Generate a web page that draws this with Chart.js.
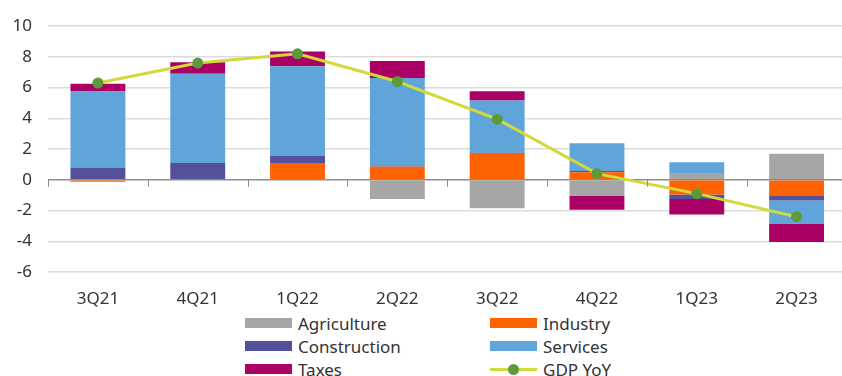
<!DOCTYPE html>
<html>
<head>
<meta charset="utf-8">
<script src="https://cdn.jsdelivr.net/npm/chart.js@4.4.1/dist/chart.umd.min.js"></script>
<style>
  html, body { margin: 0; padding: 0; background: #fff; overflow: hidden; }
  #wrap { position: relative; width: 842px; height: 376px; overflow: hidden; }
  #chart { position: absolute; left: 0; top: 0; }
  #legend { position: absolute; left: 0; top: 312px; width: 842px; font-family: "Noto Sans", sans-serif; font-size: 17px; color: #333; }
  .item { position: absolute; height: 23px; line-height: 23px; white-space: nowrap; }
  .sw { position: absolute; left: 0; top: 6px; width: 47px; height: 10px; }
  .txt { position: absolute; left: 53px; top: 0; }
  .ln { position: absolute; left: 0; top: 10px; width: 47px; height: 3px; }
  .dot { position: absolute; left: 18px; top: 6px; width: 11px; height: 11px; border-radius: 50%; }
</style>
</head>
<body>
<div id="wrap">
  <canvas id="chart" width="852" height="310"></canvas>
  <div id="legend"></div>
</div>
<script>
// quarters on the x axis
const categories = ['3Q21', '4Q21', '1Q22', '2Q22', '3Q22', '4Q22', '1Q23', '2Q23'];

// contributions to GDP growth (pp)
const agriculture  = [0, -0.05, -0.05, -1.25, -1.85, -1.05, 0.45, 1.7];
const industry     = [-0.12, 0, 1.1, 0.85, 1.7, 0.5, -0.95, -1.05];
const construction = [0.8, 1.1, 0.45, 0.03, 0.07, 0.08, -0.3, -0.3];
const services     = [4.95, 5.8, 5.85, 5.75, 3.4, 1.8, 0.7, -1.5];
const taxes        = [0.5, 0.75, 0.95, 1.1, 0.6, -0.9, -1.0, -1.2];
const gdpYoY       = [6.3, 7.6, 8.2, 6.4, 3.95, 0.4, -0.9, -2.4];

const yTicks = [-6, -4, -2, 0, 2, 4, 6, 8, 10];

const colors = {
  agriculture: '#a6a6a6',
  industry: '#ff6200',
  construction: '#525199',
  services: '#5fa5d9',
  taxes: '#ab0066',
  line: '#d2da3a',
  dot: '#5e9a3a'
};

const FONT = { family: '"Noto Sans", sans-serif', size: 17 };

function barSet(label, data, color) {
  return {
    type: 'bar',
    label: label,
    data: data,
    backgroundColor: color,
    borderWidth: 0,
    stack: 'parts',
    order: 1,
    barPercentage: 0.55,
    categoryPercentage: 1
  };
}

// little tick marks hanging under the zero line, at category boundaries
const zeroTicks = {
  id: 'zeroTicks',
  afterDatasetsDraw(chart) {
    const x = chart.scales.x, y = chart.scales.y;
    const y0 = y.getPixelForValue(0);
    const step = x.width / categories.length;
    const ctx = chart.ctx;
    ctx.save();
    ctx.strokeStyle = '#8c8c8c';
    ctx.lineWidth = 1;
    ctx.beginPath();
    for (let i = 0; i <= categories.length; i++) {
      const px = Math.round(x.left + i * step) + 0.5;
      ctx.moveTo(px, y0);
      ctx.lineTo(px, y0 + 7);
    }
    ctx.stroke();
    ctx.restore();
  }
};

const ctx = document.getElementById('chart').getContext('2d');
const chart = new Chart(ctx, {
  data: {
    labels: categories,
    datasets: [
      {
        type: 'line',
        label: 'GDP YoY',
        data: gdpYoY,
        borderColor: colors.line,
        borderWidth: 3,
        pointRadius: 5.5,
        pointBackgroundColor: colors.dot,
        pointBorderWidth: 0,
        tension: 0,
        stack: 'gdp',
        order: 0
      },
      barSet('Agriculture', agriculture, colors.agriculture),
      barSet('Industry', industry, colors.industry),
      barSet('Construction', construction, colors.construction),
      barSet('Services', services, colors.services),
      barSet('Taxes', taxes, colors.taxes)
    ]
  },
  options: {
    responsive: false,
    animation: false,
    devicePixelRatio: 1,
    layout: { padding: { top: 19, right: 0, left: 0, bottom: 0 } },
    plugins: {
      legend: { display: false },
      tooltip: { enabled: false }
    },
    scales: {
      x: {
        stacked: true,
        offset: true,
        grid: { display: false, drawTicks: false },
        border: { display: false },
        ticks: { color: '#333', font: FONT, padding: 17, maxRotation: 0 },
        afterFit(scale) { scale.height = 38; }
      },
      y: {
        stacked: true,
        min: -6,
        max: 10,
        afterBuildTicks(scale) { scale.ticks = yTicks.map(v => ({ value: v })); },
        grid: {
          drawTicks: false,
          lineWidth: 1.5,
          color: c => (c.tick && c.tick.value === 0) ? '#8c8c8c' : '#dcdcdc'
        },
        border: { display: false },
        ticks: { color: '#333', font: FONT, padding: 16 },
        afterFit(scale) { scale.width = 48; }
      }
    }
  },
  plugins: [zeroTicks]
});

// two-column legend under the plot, built from the datasets
const legend = document.getElementById('legend');
const legendOrder = ['Agriculture', 'Industry', 'Construction', 'Services', 'Taxes', 'GDP YoY'];
const colX = [245, 490];
legendOrder.forEach((name, i) => {
  const ds = chart.data.datasets.find(d => d.label === name);
  const item = document.createElement('div');
  item.className = 'item';
  item.style.left = colX[i % 2] + 'px';
  item.style.top = (Math.floor(i / 2) * 23) + 'px';
  if (ds.type === 'line') {
    item.innerHTML = '<div class="ln" style="background:' + ds.borderColor + '"></div>' +
      '<div class="dot" style="background:' + ds.pointBackgroundColor + '"></div>';
  } else {
    item.innerHTML = '<div class="sw" style="background:' + ds.backgroundColor + '"></div>';
  }
  const t = document.createElement('span');
  t.className = 'txt';
  t.textContent = name;
  item.appendChild(t);
  legend.appendChild(item);
});
</script>
</body>
</html>
